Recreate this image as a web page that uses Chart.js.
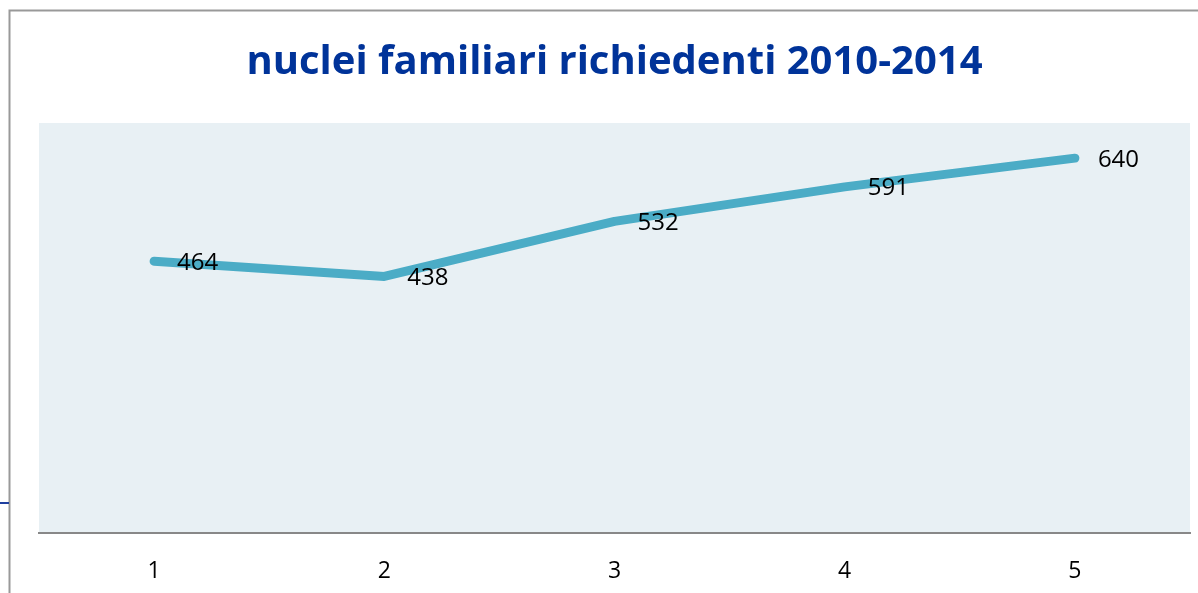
<!DOCTYPE html>
<html>
<head>
<meta charset="utf-8">
<script src="https://cdn.jsdelivr.net/npm/chart.js@4.4.1/dist/chart.umd.min.js"></script>
<style>
  html, body { margin: 0; padding: 0; background: #fff; }
  canvas { display: block; }
</style>
</head>
<body>
<canvas id="c" width="1198" height="593"></canvas>
<script>
// data
const categories = ['1', '2', '3', '4', '5'];
const richiedenti = [464, 438, 532, 591, 640];
const yMin = 0, yMax = 700;

const titleText = 'nuclei familiari richiedenti 2010-2014';
const fontFam = '"Open Sans", "Noto Sans", sans-serif';

// page frame + plot background
const framePlugin = {
  id: 'frame',
  beforeDraw(chart) {
    const { ctx, chartArea: a, width, height } = chart;
    ctx.save();
    ctx.fillStyle = '#fff';
    ctx.fillRect(0, 0, width, height);
    ctx.fillStyle = '#e8f0f4';
    ctx.fillRect(a.left, a.top, a.right - a.left, a.bottom - a.top);
    ctx.strokeStyle = '#999';
    ctx.lineWidth = 2;
    ctx.beginPath();
    ctx.moveTo(9.5, height); ctx.lineTo(9.5, 10.5); ctx.lineTo(width, 10.5);
    ctx.stroke();
    ctx.strokeStyle = '#1f3f9f';
    ctx.beginPath();
    ctx.moveTo(0, 503); ctx.lineTo(9, 503);
    ctx.stroke();
    ctx.restore();
  }
};

// labels to the right of each point
const valueLabels = {
  id: 'valueLabels',
  afterDatasetsDraw(chart) {
    const { ctx } = chart;
    const meta = chart.getDatasetMeta(0);
    ctx.save();
    ctx.font = '24px ' + fontFam;
    ctx.fillStyle = '#000';
    ctx.textAlign = 'left';
    ctx.textBaseline = 'alphabetic';
    meta.data.forEach((pt, i) => {
      ctx.fillText(String(richiedenti[i]), pt.x + 23, pt.y + 8.5);
    });
    ctx.restore();
  }
};

new Chart(document.getElementById('c').getContext('2d'), {
  type: 'line',
  data: {
    labels: categories,
    datasets: [{
      data: richiedenti,
      borderColor: '#4bacc6',
      borderWidth: 9,
      borderCapStyle: 'round',
      borderJoinStyle: 'round',
      pointRadius: 0,
      tension: 0,
      fill: false,
    }],
  },
  options: {
    responsive: false, animation: false,
    layout: { padding: { left: 39, right: 8, top: 0, bottom: 12 } },
    plugins: {
      legend: { display: false },
      tooltip: { enabled: false },
      title: {
        display: true, text: titleText, color: '#003399',
        font: { family: fontFam, size: 40, weight: 'bold', lineHeight: 1.2 },
        padding: { top: 39, bottom: 36 },
      },
    },
    scales: {
      x: {
        offset: true,
        grid: { display: false, drawTicks: false },
        border: { display: true, color: '#888', width: 2 },
        ticks: { color: '#000', padding: 25, font: { family: fontFam, size: 23 } },
        afterFit(scale) { scale.height = 48; },
      },
      y: { display: false, min: yMin, max: yMax },
    },
  },
  plugins: [framePlugin, valueLabels],
});
</script>
</body>
</html>
